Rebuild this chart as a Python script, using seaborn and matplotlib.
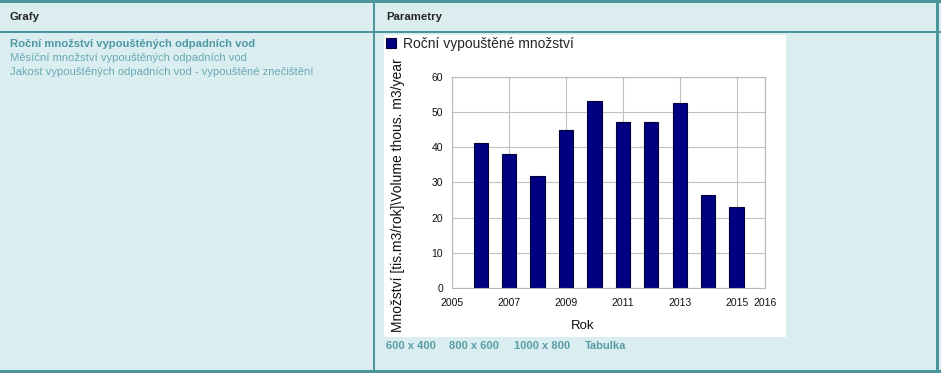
import matplotlib
matplotlib.use("Agg")
import matplotlib.pyplot as plt
from matplotlib.patches import Rectangle
import seaborn as sns

# ---- data ----
years = [2006, 2007, 2008, 2009, 2010, 2011, 2012, 2013, 2014, 2015]
volumes = [41.3, 38.1, 31.8, 44.9, 53.1, 47.2, 47.2, 52.6, 26.4, 23.0]
x_ticks = [2005, 2007, 2009, 2011, 2013, 2015, 2016]
y_ticks = [0, 10, 20, 30, 40, 50, 60]
series_label = "Roční vypouštěné množství"
y_label = "Množství [tis.m3/rok]\\Volume thous. m3/year"
x_label = "Rok"
panel_headers = ["Grafy", "Parametry"]
left_links = ["Roční množství vypouštěných odpadních vod",
              "Měsíční množství vypouštěných odpadních vod",
              "Jakost vypouštěných odpadních vod - vypouštěné znečištění"]
bottom_links = ["600 x 400", "800 x 600", "1000 x 800", "Tabulka"]

sns.set_style("white")
plt.rcParams['font.family'] = ['Liberation Sans', 'DejaVu Sans']

W, H = 941, 373
fig = plt.figure(figsize=(W / 100, H / 100), dpi=100)

def fx(px):
    return px / W

def fy(py):
    return 1 - py / H

def rect(x0, y0, x1, y1, color, z=0):
    fig.patches.append(Rectangle((fx(x0), fy(y1)), fx(x1) - fx(x0), fy(y0) - fy(y1),
                                 transform=fig.transFigure, facecolor=color,
                                 edgecolor='none', zorder=z))

teal = '#4a969c'
content_bg = '#daeef1'
header_bg = '#dcedf0'

# page background and panel frames
rect(0, 0, W, H, content_bg, 0)
rect(0, 3, W, 31, header_bg, 0)
rect(0, 0, W, 3, teal, 1)
rect(0, 31, W, 33, teal, 1)
rect(372.5, 0, 375, H, teal, 1)
rect(0, 369.5, W, H, teal, 1)
rect(936, 0, 938.5, H, teal, 1)
# chart image area
rect(384, 35, 786, 337, 'white', 1)

# header texts
fig.text(fx(10), fy(17), panel_headers[0], fontsize=8.2, fontweight='bold', va='center', ha='left')
fig.text(fx(386), fy(17), panel_headers[1], fontsize=8.2, fontweight='bold', va='center', ha='left')

# left links
link_cols = ['#4f98a2', '#6aa9b2', '#6aa9b2']
for i, (t, c) in enumerate(zip(left_links, link_cols)):
    fig.text(fx(10), fy(44 + 14 * i), t, fontsize=8.1, color=c,
             fontweight='bold' if i == 0 else 'normal', va='center', ha='left')

# bottom links
bx = [386, 449, 514, 585]
for x0, t in zip(bx, bottom_links):
    fig.text(fx(x0), fy(346), t, fontsize=8, color='#5a9ca5', fontweight='bold',
             va='center', ha='left')

# chart axes
ax = fig.add_axes([fx(452.3), fy(288), fx(765) - fx(452.3), fy(76.7) - fy(288)])
ax.set_zorder(2)
sns.barplot(x=years, y=volumes, native_scale=True, width=0.5, color='#000080',
            saturation=1, edgecolor='#00003a', linewidth=0.8, ax=ax, label=series_label)
ax.set_xlim(2005, 2016)
ax.set_ylim(0, 60)
ax.set_xticks(x_ticks)
ax.set_xticklabels([str(v) for v in x_ticks])
ax.set_yticks(y_ticks)
ax.grid(True, color='#c0c0c0', linewidth=0.8)
ax.set_axisbelow(True)
for s in ax.spines.values():
    s.set_color('#b8b8b8')
    s.set_linewidth(0.8)
ax.tick_params(length=0, labelsize=7.5, colors='#111111')
ax.tick_params(axis='x', pad=7)
ax.tick_params(axis='y', pad=6.5)

ax.set_ylabel(y_label, fontsize=10, color='#111111')
ax.yaxis.set_label_coords(-0.150, 0.438)
ax.set_xlabel(x_label, fontsize=9.5, color='#111111')
ax.xaxis.set_label_coords(0.418, -0.152)

leg = ax.legend(loc='upper left', bbox_to_anchor=(fx(386), fy(37)), bbox_transform=fig.transFigure,
                frameon=False, fontsize=10, handlelength=0.75, handleheight=0.75,
                handletextpad=0.45, borderaxespad=0, borderpad=0)

fig.savefig('out.png', dpi=100)
